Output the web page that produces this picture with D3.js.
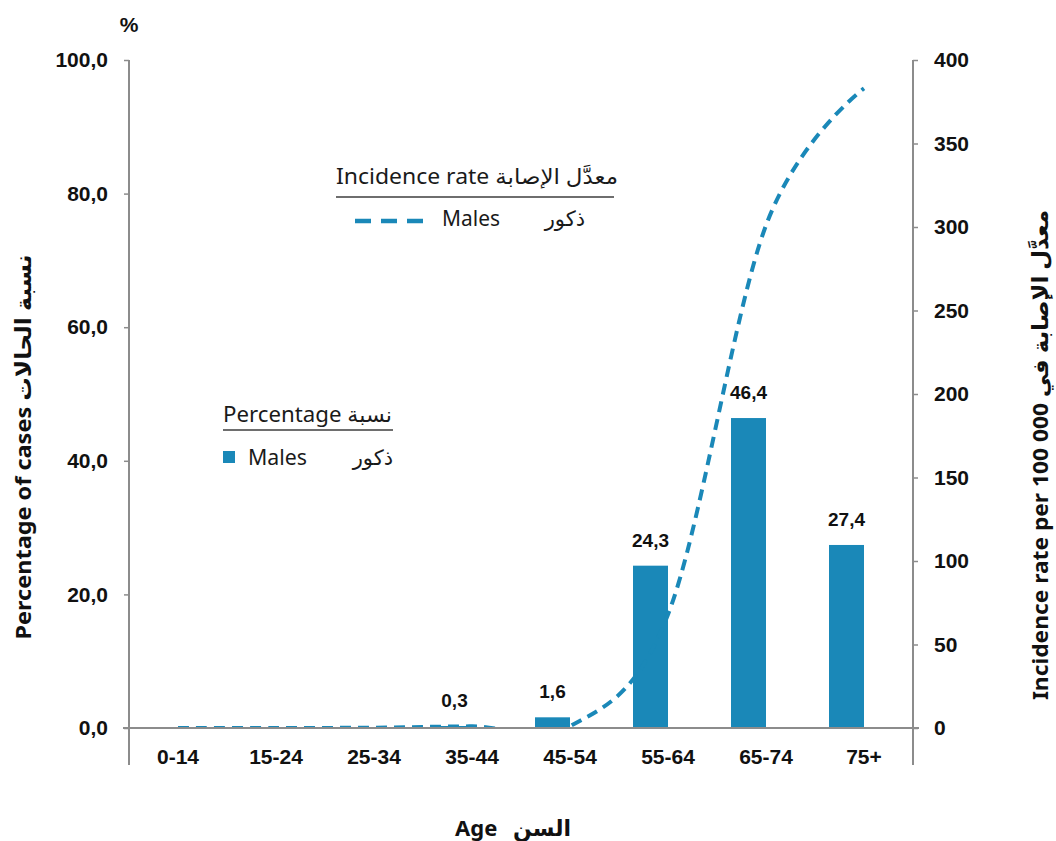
<!DOCTYPE html>
<html>
<head>
<meta charset="utf-8">
<script src="https://cdn.jsdelivr.net/npm/d3@7"></script>
<style>
  body { margin: 0; background: #fff; }
  svg { display: block; }
  .tick-lbl { font-family: "Liberation Sans", Arial, sans-serif; font-weight: bold; font-size: 21px; fill: #111; }
  .bar-lbl { font-family: "Liberation Sans", Arial, sans-serif; font-weight: bold; font-size: 19px; fill: #111; }
  .title { font-family: "Noto Sans", "DejaVu Sans", sans-serif; font-weight: bold; fill: #111; }
  .leg { font-family: "Noto Sans", "DejaVu Sans", sans-serif; font-size: 21px; fill: #1a1a1a; }
</style>
</head>
<body>
<svg id="chart" width="1056" height="841"></svg>
<script>
// ---- data ----
const ageGroups = ["0-14", "15-24", "25-34", "35-44", "45-54", "55-64", "65-74", "75+"];
const percentMales = [0, 0, 0, 0.3, 1.6, 24.3, 46.4, 27.4];
const percentLabels = ["", "", "", "0,3", "1,6", "24,3", "46,4", "27,4"];
const incidenceMales = [0, 0, 0.2, 1, 1, 68, 301, 383];
const leftTicks = [0, 20, 40, 60, 80, 100];
const leftTickLabels = ["0,0", "20,0", "40,0", "60,0", "80,0", "100,0"];
const rightTicks = [0, 50, 100, 150, 200, 250, 300, 350, 400];

(function () {
const blue = "#1a88b8";
const axisGray = "#8c8c8c";

const svg = d3.select("#chart");
const pLeft = 129, pRight = 913, pTop = 60, pBottom = 728, axisEnd = 765;

const x = d3.scaleBand().domain(ageGroups).range([pLeft, pRight]).padding(0);
const yL = d3.scaleLinear().domain([0, 100]).range([pBottom, pTop]);
const yR = d3.scaleLinear().domain([0, 400]).range([pBottom, pTop]);
const barW = 35;

// clip for line (not below zero)
svg.append("defs").append("clipPath").attr("id", "plotclip")
  .append("rect").attr("x", pLeft).attr("y", 0).attr("width", pRight - pLeft).attr("height", pBottom);

// bars
svg.append("g").selectAll("rect").data(ageGroups).join("rect")
  .attr("x", d => x(d) + x.bandwidth() / 2 - barW)
  .attr("width", barW)
  .attr("y", (d, i) => yL(percentMales[i]))
  .attr("height", (d, i) => pBottom - yL(percentMales[i]))
  .attr("fill", blue);

// bar labels
svg.append("g").selectAll("text").data(ageGroups).join("text")
  .attr("class", "bar-lbl")
  .attr("x", d => x(d) + x.bandwidth() / 2 - barW / 2)
  .attr("y", (d, i) => yL(percentMales[i]) - 19)
  .attr("text-anchor", "middle")
  .text((d, i) => percentLabels[i]);

// line
const line = d3.line()
  .x((d, i) => x(ageGroups[i]) + x.bandwidth() / 2)
  .y(d => yR(d))
  .curve(d3.curveCardinal.tension(0));
svg.append("path")
  .datum(incidenceMales)
  .attr("d", line)
  .attr("clip-path", "url(#plotclip)")
  .attr("fill", "none")
  .attr("stroke", blue)
  .attr("stroke-width", 4)
  .attr("stroke-dasharray", "11,7");

// axes
const gL = svg.append("g").attr("transform", `translate(${pLeft},0)`)
  .call(d3.axisLeft(yL).tickValues(leftTicks).tickSize(5).tickFormat((d, i) => leftTickLabels[i]));
const gR = svg.append("g").attr("transform", `translate(${pRight},0)`)
  .call(d3.axisRight(yR).tickValues(rightTicks).tickSize(5).tickFormat(d => d));
[gL, gR].forEach(g => {
  g.select(".domain").remove();
  g.selectAll(".tick line").attr("stroke", axisGray).attr("stroke-width", 1.5);
  g.selectAll(".tick text").attr("class", "tick-lbl").attr("fill", "#111");
});
gL.selectAll(".tick text").attr("x", -21);
gR.selectAll(".tick text").attr("x", 21);

// axis lines
svg.append("line").attr("x1", pLeft).attr("x2", pLeft).attr("y1", pTop).attr("y2", axisEnd)
  .attr("stroke", axisGray).attr("stroke-width", 2);
svg.append("line").attr("x1", pRight).attr("x2", pRight).attr("y1", pTop).attr("y2", axisEnd)
  .attr("stroke", axisGray).attr("stroke-width", 2);
svg.append("line").attr("x1", pLeft - 6).attr("x2", pRight + 6).attr("y1", pBottom).attr("y2", pBottom)
  .attr("stroke", axisGray).attr("stroke-width", 2);

// category labels
const gX = svg.append("g").attr("transform", `translate(0,${pBottom})`)
  .call(d3.axisBottom(x).tickSize(0).tickPadding(0));
gX.select(".domain").remove();
gX.selectAll(".tick text").attr("class", "tick-lbl").attr("fill", "#111").attr("y", 36).attr("dy", 0);

// "%"
svg.append("text").attr("class", "tick-lbl").attr("x", 129).attr("y", 32).attr("text-anchor", "middle").text("%");

// axis titles
svg.append("text").attr("class", "title").attr("font-size", 22)
  .attr("transform", "translate(31,447) rotate(-90)").attr("text-anchor", "middle")
  .attr("direction", "ltr").attr("textLength", 385).attr("lengthAdjust", "spacingAndGlyphs")
  .text("Percentage of cases  نسبة الحالات");
svg.append("text").attr("class", "title").attr("font-size", 22)
  .attr("transform", "translate(1048,455) rotate(-90)").attr("text-anchor", "middle")
  .attr("direction", "ltr").attr("textLength", 490).attr("lengthAdjust", "spacingAndGlyphs")
  .text("Incidence rate per 100 000 معدَّل الإصابة في");
svg.append("text").attr("class", "title").attr("font-size", 22)
  .attr("x", 455).attr("y", 836).text("Age");
svg.append("text").attr("class", "title").attr("font-size", 22)
  .attr("x", 571).attr("y", 836).attr("text-anchor", "end").text("السن");

// legend: incidence
const lg1 = svg.append("g");
lg1.append("text").attr("class", "leg").attr("x", 336).attr("y", 184).attr("direction", "ltr")
  .attr("textLength", 282).attr("lengthAdjust", "spacingAndGlyphs").text("Incidence rate معدَّل الإصابة");
lg1.append("line").attr("x1", 336).attr("x2", 614).attr("y1", 197).attr("y2", 197)
  .attr("stroke", "#6e6e6e").attr("stroke-width", 2);
lg1.append("line").attr("x1", 355).attr("x2", 423).attr("y1", 221).attr("y2", 221)
  .attr("stroke", blue).attr("stroke-width", 4.5).attr("stroke-dasharray", "16,10");
lg1.append("text").attr("class", "leg").attr("x", 442).attr("y", 226)
  .attr("textLength", 58).attr("lengthAdjust", "spacingAndGlyphs").text("Males");
lg1.append("text").attr("class", "leg").attr("x", 585).attr("y", 226).attr("text-anchor", "end").text("ذكور");

// legend: percentage
const lg2 = svg.append("g");
lg2.append("text").attr("class", "leg").attr("x", 223).attr("y", 422).attr("direction", "ltr")
  .attr("textLength", 169).attr("lengthAdjust", "spacingAndGlyphs").text("Percentage نسبة");
lg2.append("line").attr("x1", 223).attr("x2", 393).attr("y1", 430).attr("y2", 430)
  .attr("stroke", "#6e6e6e").attr("stroke-width", 2);
lg2.append("rect").attr("x", 223).attr("y", 451).attr("width", 12).attr("height", 12).attr("fill", blue);
lg2.append("text").attr("class", "leg").attr("x", 248).attr("y", 465)
  .attr("textLength", 59).attr("lengthAdjust", "spacingAndGlyphs").text("Males");
lg2.append("text").attr("class", "leg").attr("x", 393).attr("y", 465).attr("text-anchor", "end").text("ذكور");
})();
</script>
</body>
</html>
